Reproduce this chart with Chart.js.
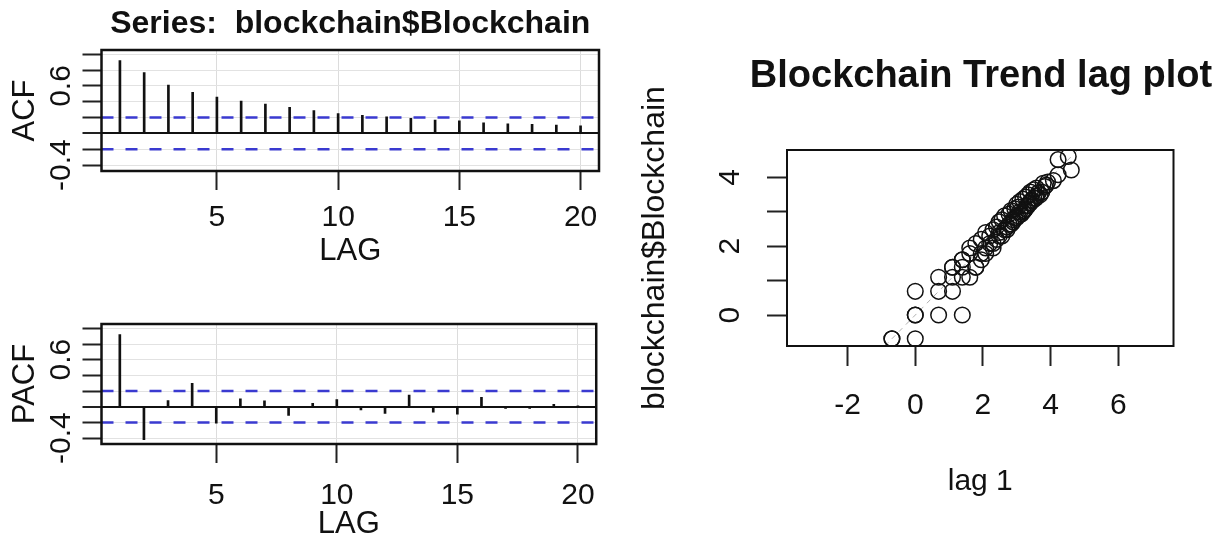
<!DOCTYPE html>
<html>
<head>
<meta charset="utf-8">
<title>Blockchain ACF / PACF and lag plot</title>
<script src="https://cdn.jsdelivr.net/npm/chart.js@4.4.1/dist/chart.umd.min.js"></script>
<style>
  html, body { margin: 0; padding: 0; background: #ffffff; }
  #page { position: relative; width: 1225px; height: 540px; overflow: hidden; background: #ffffff; }
  #page canvas { position: absolute; }
  #lagTitle {
    position: absolute; left: 731px; width: 500px; top: 52px; height: 45px;
    text-align: center; line-height: 45px; white-space: nowrap;
    font-family: 'Liberation Sans', Arial, Helvetica, sans-serif;
    font-weight: bold; font-size: 38px; color: #111111;
  }
</style>
</head>
<body>
<div id="page">
  <canvas id="acfChart" width="610" height="270" style="left:0;top:0"></canvas>
  <canvas id="pacfChart" width="610" height="270" style="left:0;top:270px"></canvas>
  <canvas id="lagChart" width="605" height="540" style="left:620px;top:0"></canvas>
  <div id="lagTitle">Blockchain Trend lag plot</div>
</div>
<script>
// ---- data ----
const lags = [1, 2, 3, 4, 5, 6, 7, 8, 9, 10, 11, 12, 13, 14, 15, 16, 17, 18, 19, 20];
const acfValues = [0.92, 0.77, 0.61, 0.52, 0.46, 0.41, 0.37, 0.33, 0.29, 0.25,
                   0.23, 0.21, 0.19, 0.17, 0.16, 0.135, 0.12, 0.115, 0.105, 0.095];
const pacfValues = [0.92, -0.42, 0.08, 0.30, -0.21, 0.10, 0.075, -0.11, 0.045, 0.09,
                    -0.04, -0.085, 0.15, -0.07, -0.095, 0.12, -0.02, -0.02, 0.03, 0.005];
const confBound = 0.2;                       // approximate 2/sqrt(n) significance band
const corrTicks = [-0.4, -0.2, 0, 0.2, 0.4, 0.6, 0.8, 1.0];
const corrTickLabels = [-0.4, 0.6];          // ticks that carry a printed label
const lagTicks = [5, 10, 15, 20];

// log search-interest series, in time order
const blockchain = [
  -0.69, -0.69, -0.69, 0, 0, 0, 0.69, 0, 1.39, 1.10, 0.69, 0.69, 1.10, 1.10, 1.39, 1.39,
  1.10, 1.61, 1.39, 1.79, 1.61, 1.39, 1.79, 1.95, 1.61, 1.95,
  2.08, 1.79, 2.08, 2.20, 1.95, 2.30, 2.20, 2.40, 2.08, 2.30,
  2.48, 2.30, 2.56, 2.40, 2.48, 2.71, 2.48, 2.64, 2.77, 2.56,
  2.71, 2.89, 2.64, 2.83, 2.94, 2.77, 2.89, 3.04, 2.83, 3.00,
  3.09, 2.94, 3.14, 3.04, 3.22, 3.00, 3.18, 3.30, 3.09, 3.26,
  3.37, 3.18, 3.33, 3.43, 3.26, 3.40, 3.50, 3.33, 3.47, 3.58,
  3.40, 3.56, 3.64, 3.50, 3.69, 3.58, 3.74, 3.83, 3.78, 3.87,
  3.91, 4.08, 4.22, 4.61, 4.52, 4.22
];
const lagPlotXTicks = [-2, 0, 2, 4, 6];
const lagPlotYTicks = [0, 1, 2, 3, 4];
const lagPlotYTickLabels = [0, 2, 4];

// ---- axis limits ----
const lagMin = 0.24, lagMax = 20.76;
const corrMin = -0.475, corrMax = 1.055;
const lagPlotXMin = -3.79, lagPlotXMax = 7.63;
const lagPlotYMin = -0.90, lagPlotYMax = 4.80;

const FONT = "'Liberation Sans', Arial, Helvetica, sans-serif";
const INK = '#111111';

Chart.defaults.font.family = FONT;
Chart.defaults.color = INK;

// outline drawn round the plotting region
const framePlugin = {
  id: 'frame',
  afterDatasetsDraw(chart, args, opts) {
    const { ctx, chartArea: { left, top, right, bottom } } = chart;
    ctx.save();
    ctx.strokeStyle = opts.color || INK;
    ctx.lineWidth = opts.width || 2;
    ctx.strokeRect(left, top, right - left, bottom - top);
    ctx.restore();
  }
};

function correlogram(canvasId, yTitle, values, lay) {
  const bandLine = (level) => ({
    type: 'line',
    data: [{ x: lagMin, y: level }, { x: lagMax, y: level }],
    borderColor: '#3a3ad0',
    borderWidth: 2.5,
    borderDash: [12, 12],
    pointRadius: 0,
    fill: false
  });
  return new Chart(document.getElementById(canvasId), {
    type: 'bar',
    data: {
      datasets: [
        bandLine(confBound),
        bandLine(-confBound),
        {
          type: 'bar',
          data: lags.map((l, i) => ({ x: l, y: values[i] })),
          backgroundColor: INK,
          borderWidth: 0,
          barThickness: 2
        }
      ]
    },
    options: {
      responsive: false,
      animation: false,
      events: [],
      layout: { padding: { top: lay.top, right: 11, left: 0, bottom: 0 } },
      plugins: {
        legend: { display: false },
        tooltip: { enabled: false },
        title: lay.title ? {
          display: true,
          text: lay.title,
          fullSize: false,
          color: INK,
          font: { family: FONT, size: 32, weight: 'bold', lineHeight: 1.2 },
          padding: { top: 5.4, bottom: 6.2 }
        } : { display: false },
        frame: { width: 2.5 }
      },
      scales: {
        x: {
          type: 'linear',
          min: lagMin,
          max: lagMax,
          offset: false,
          afterBuildTicks: (s) => { s.ticks = lagTicks.map((v) => ({ value: v })); },
          afterFit: (s) => { s.height = lay.xAxisHeight; },
          grid: { offset: false, color: '#dcdcdc', lineWidth: 1, tickLength: 19, tickColor: '#222', tickWidth: 2 },
          border: { display: false },
          ticks: {
            autoSkip: false, maxRotation: 0, padding: lay.xLabelPad,
            color: INK, font: { family: FONT, size: 30 },
            callback: (v) => String(v)
          },
          title: {
            display: true, text: 'LAG', color: INK,
            font: { family: FONT, size: 31, lineHeight: 1.2 },
            padding: { top: 0, bottom: lay.xTitlePad }
          }
        },
        y: {
          type: 'linear',
          min: corrMin,
          max: corrMax,
          afterBuildTicks: (s) => { s.ticks = corrTicks.map((v) => ({ value: v })); },
          afterFit: (s) => { s.width = 101.5; },
          grid: {
            color: (c) => (c.tick && c.tick.value === 0 ? INK : '#e2e2e2'),
            lineWidth: (c) => (c.tick && c.tick.value === 0 ? 2 : 1),
            tickLength: 19, tickColor: '#222', tickWidth: 2
          },
          border: { display: false },
          ticks: {
            autoSkip: false,
            minRotation: 90, maxRotation: 90, crossAlign: 'center', padding: -5,
            color: INK, font: { family: FONT, size: 30 },
            callback: (v) => (corrTickLabels.includes(v) ? String(v) : '')
          },
          title: {
            display: true, text: yTitle, color: INK,
            font: { family: FONT, size: 31, lineHeight: 1.2 },
            padding: { top: 6.4, bottom: 0 }
          }
        }
      }
    },
    plugins: [framePlugin]
  });
}

correlogram('acfChart', 'ACF', acfValues, {
  title: 'Series:  blockchain$Blockchain',
  top: 0, xAxisHeight: 99, xLabelPad: 10, xTitlePad: 0
});
correlogram('pacfChart', 'PACF', pacfValues, {
  title: null,
  top: 54, xAxisHeight: 96, xLabelPad: 15, xTitlePad: -3
});

// ---- lag-1 scatter ----
const lagPairs = blockchain.slice(1).map((next, i) => ({ x: next, y: blockchain[i] }));
const diagonal = [{ x: lagPlotYMin, y: lagPlotYMin }, { x: lagPlotYMax, y: lagPlotYMax }];

new Chart(document.getElementById('lagChart'), {
  type: 'scatter',
  data: {
    datasets: [
      {
        type: 'scatter',
        data: lagPairs,
        pointStyle: 'circle',
        pointRadius: 7.8,
        borderColor: INK,
        backgroundColor: 'rgba(0,0,0,0)',
        borderWidth: 1.5
      },
      {
        type: 'line',
        data: diagonal,
        borderColor: '#b0b0b0',
        borderWidth: 1,
        borderDash: [5, 5],
        pointRadius: 0,
        fill: false
      }
    ]
  },
  options: {
    responsive: false,
    animation: false,
    events: [],
    layout: { padding: { top: 150, right: 51.5, left: 0, bottom: 0 } },
    plugins: {
      legend: { display: false },
      tooltip: { enabled: false },
      title: { display: false },
      frame: { width: 2 }
    },
    scales: {
      x: {
        type: 'linear',
        min: lagPlotXMin,
        max: lagPlotXMax,
        afterBuildTicks: (s) => { s.ticks = lagPlotXTicks.map((v) => ({ value: v })); },
        afterFit: (s) => { s.height = 194; },
        grid: { drawOnChartArea: false, tickLength: 20, tickColor: '#222', tickWidth: 2 },
        border: { display: false },
        ticks: {
          autoSkip: false, maxRotation: 0, padding: 22,
          color: INK, font: { family: FONT, size: 30 },
          callback: (v) => String(v)
        },
        title: {
          display: true, text: 'lag 1', color: INK,
          font: { family: FONT, size: 30, lineHeight: 1.2 },
          padding: { top: 0, bottom: 40 }
        }
      },
      y: {
        type: 'linear',
        min: lagPlotYMin,
        max: lagPlotYMax,
        afterBuildTicks: (s) => { s.ticks = lagPlotYTicks.map((v) => ({ value: v })); },
        afterFit: (s) => { s.width = 167; },
        grid: { drawOnChartArea: false, tickLength: 20, tickColor: '#222', tickWidth: 2 },
        border: { display: false },
        ticks: {
          autoSkip: false,
          minRotation: 90, maxRotation: 90, crossAlign: 'center', padding: 28,
          color: INK, font: { family: FONT, size: 30 },
          callback: (v) => (lagPlotYTickLabels.includes(v) ? String(v) : '')
        },
        title: {
          display: true, text: 'blockchain$Blockchain', color: INK,
          font: { family: FONT, size: 32, lineHeight: 1.2 },
          padding: { top: 15.8, bottom: 0 }
        }
      }
    }
  },
  plugins: [framePlugin]
});
</script>
</body>
</html>
